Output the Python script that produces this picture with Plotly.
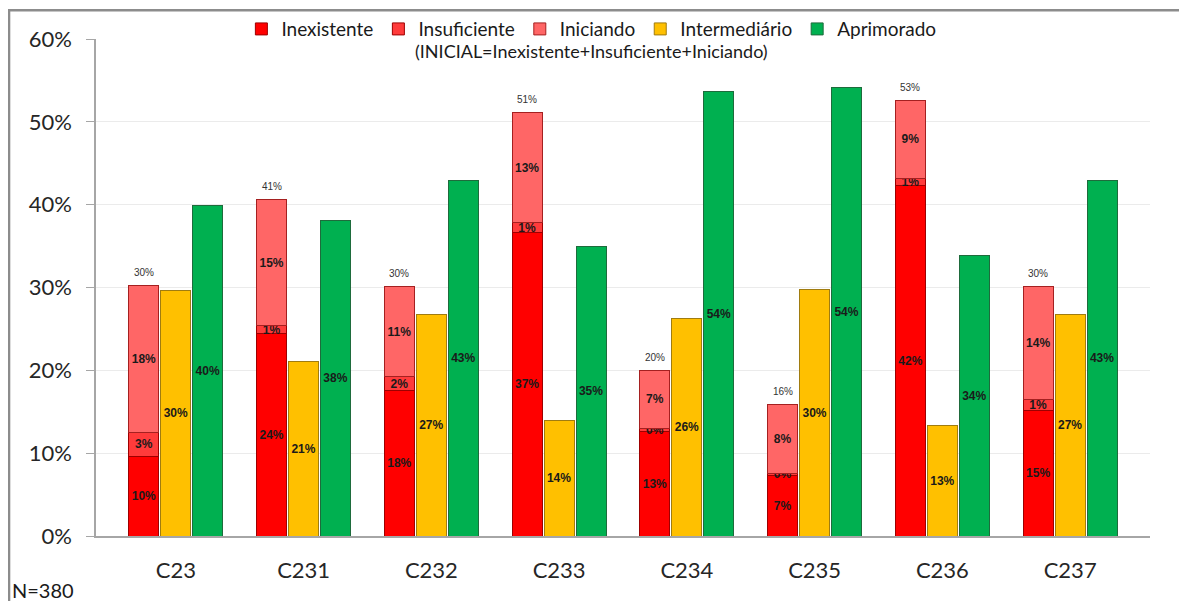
import plotly.graph_objects as go

categories = ["C23", "C231", "C232", "C233", "C234", "C235", "C236", "C237"]
inexistente = [9.6, 24.4, 17.6, 36.6, 12.6, 7.3, 42.3, 15.2]
insuficiente = [2.9, 1.0, 1.6, 1.2, 0.4, 0.3, 0.9, 1.3]
iniciando = [17.7, 15.2, 10.9, 13.3, 7.0, 8.3, 9.4, 13.6]
intermediario = [29.6, 21.1, 26.8, 13.9, 26.3, 29.7, 13.3, 26.8]
aprimorado = [39.9, 38.1, 42.9, 35.0, 53.7, 54.1, 33.9, 42.9]
y_ticks = [0, 10, 20, 30, 40, 50, 60]
n_label = "N=380"
subtitle = "(INICIAL=Inexistente+Insuficiente+Iniciando)"

idx = list(range(len(categories)))
x_stack = [i - 0.25 for i in idx]
x_mid = [i for i in idx]
x_right = [i + 0.25 for i in idx]
totals = [a + b + c for a, b, c in zip(inexistente, insuficiente, iniciando)]

BW = 0.235
label_font = dict(family="Liberation Sans, Arial", size=12, color="#1a1a1a", weight="bold")

fig = go.Figure()

def add_bar(name, x, y, color, line):
    fig.add_trace(go.Bar(
        name=name, x=x, y=y, width=BW,
        marker=dict(color=color, line=dict(color=line, width=1)),
        texttemplate="%{y:.0f}%", textposition="inside", insidetextanchor="middle",
        textangle=0, constraintext="none", textfont=label_font,
        hoverinfo="y+name",
    ))

add_bar("Inexistente", x_stack, inexistente, "#FF0000", "#9E0000")
add_bar("Insuficiente", x_stack, insuficiente, "#FF3B3B", "#9E0000")
add_bar("Iniciando", x_stack, iniciando, "#FF6666", "#A52020")
add_bar("Intermediário", x_mid, intermediario, "#FFC000", "#A07C10")
add_bar("Aprimorado", x_right, aprimorado, "#00B050", "#1E6B3C")

annotations = []
for xs, t in zip(x_stack, totals):
    annotations.append(dict(
        x=xs, y=t, xref="x", yref="y", text=f"{t:.0f}%", showarrow=False,
        yanchor="middle", xanchor="center", yshift=13,
        font=dict(family="Liberation Sans, Arial", size=10, color="#333333"),
    ))
annotations += [
    dict(text=subtitle, xref="paper", yref="paper", x=0.47, y=0.976,
         xanchor="center", yanchor="middle", showarrow=False,
         font=dict(size=18, color="#1a1a1a")),
    dict(text=n_label, xref="paper", yref="paper", x=-0.0816, y=-0.109,
         xanchor="left", yanchor="middle", showarrow=False,
         font=dict(size=20, color="#1a1a1a")),
]

fig.update_layout(
    barmode="stack",
    width=1179, height=593,
    margin=dict(l=88, r=37, t=31, b=65, autoexpand=False),
    paper_bgcolor="white", plot_bgcolor="white",
    font=dict(family="Lato, Carlito, Calibri, sans-serif", color="#262626"),
    showlegend=True,
    legend=dict(orientation="h", x=0.47, xanchor="center", y=1.02, yanchor="middle",
                font=dict(size=19, color="#1a1a1a"), traceorder="normal",
                itemwidth=30, bgcolor="rgba(0,0,0,0)"),
    xaxis=dict(range=[-0.625, 7.625], tickmode="array", tickvals=idx, ticktext=categories,
               showgrid=False, zeroline=False, showline=True, linecolor="#A6A6A6", linewidth=1.5,
               ticks="", tickfont=dict(size=22, color="#262626"), ticklabelstandoff=14,
               fixedrange=True),
    yaxis=dict(range=[0, 60], tickmode="array", tickvals=y_ticks,
               ticktext=[f"{v}%" for v in y_ticks],
               showgrid=True, gridcolor="#EBEBEB", gridwidth=1, zeroline=False,
               showline=True, linecolor="#A6A6A6", linewidth=1.5,
               ticks="outside", ticklen=8, tickcolor="#A6A6A6",
               tickfont=dict(size=22, color="#262626"), ticklabelstandoff=10,
               fixedrange=True),
    shapes=[
        dict(type="path", xref="paper", yref="paper",
             path="M -0.0825,-0.2 L -0.0825,1.058 L 1.1,1.058",
             line=dict(color="#8C8C8C", width=2.5)),
    ],
    annotations=annotations,
)

fig.write_html("out.html")
